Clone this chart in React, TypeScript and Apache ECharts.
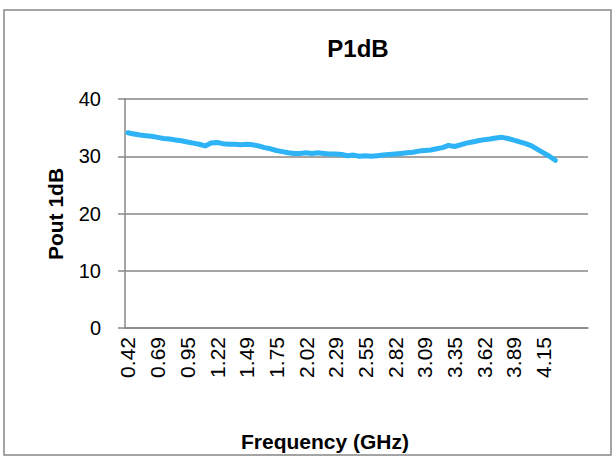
import React, { useEffect, useRef } from "react";
import * as echarts from "echarts";

// Tick labels shown on the frequency axis (GHz)
const tickLabels = [
  "0.42", "0.69", "0.95", "1.22", "1.49", "1.75", "2.02", "2.29",
  "2.55", "2.82", "3.09", "3.35", "3.62", "3.89", "4.15",
];
// measured points between two labels
const pointsPerTick = 5;
// empty categories after the last measured point
const trailingEmpty = 5;

// P1dB output power (dBm)
const p1dB = [
  34.1, 33.9, 33.7, 33.6, 33.5, 33.3, 33.1, 33.0, 32.85, 32.7,
  32.5, 32.3, 32.1, 31.8, 32.3, 32.4, 32.2, 32.1, 32.1, 32.0,
  32.1, 32.0, 31.8, 31.5, 31.3, 31.0, 30.8, 30.6, 30.5, 30.5,
  30.6, 30.5, 30.6, 30.5, 30.4, 30.4, 30.3, 30.1, 30.2, 30.0,
  30.1, 30.0, 30.1, 30.2, 30.3, 30.4, 30.5, 30.6, 30.7, 30.9,
  31.0, 31.1, 31.3, 31.5, 31.9, 31.7, 32.0, 32.3, 32.5, 32.7,
  32.9, 33.0, 33.2, 33.3, 33.1, 32.8, 32.5, 32.2, 31.8, 31.2,
  30.6, 30.0, 29.3,
];

const yTicks = { min: 0, max: 40, interval: 10 };

const FONT = "'Liberation Sans', Arial, sans-serif";
const GRAY = "#878787";

export default function App() {
  const ref = useRef<HTMLDivElement>(null);

  useEffect(() => {
    if (!ref.current) return;
    const chart = echarts.init(ref.current, null, { renderer: "svg" });

    const total = p1dB.length + trailingEmpty;
    const categories: string[] = [];
    for (let i = 0; i < total; i++) {
      const k = i / pointsPerTick;
      categories.push(
        i % pointsPerTick === 0 && k < tickLabels.length ? tickLabels[k] : ""
      );
    }

    chart.setOption({
      animation: false,
      backgroundColor: "#ffffff",
      grid: { left: 125, top: 99, width: 463, height: 229, containLabel: false },
      xAxis: {
        type: "category",
        data: categories,
        boundaryGap: true,
        axisLine: { show: true, lineStyle: { color: GRAY, width: 1.5 } },
        axisTick: { show: false },
        splitLine: { show: false },
        axisLabel: {
          interval: 0,
          rotate: 90,
          margin: 9,
          fontSize: 21,
          fontFamily: FONT,
          color: "#000",
          padding: [0, 0, 6, 0],
        },
      },
      yAxis: {
        type: "value",
        min: yTicks.min,
        max: yTicks.max,
        interval: yTicks.interval,
        axisLine: { show: true, lineStyle: { color: GRAY, width: 1.5 } },
        axisTick: { show: true, length: 7, lineStyle: { color: GRAY, width: 1.5 } },
        splitLine: { show: true, lineStyle: { color: GRAY, width: 1.5 } },
        axisLabel: {
          margin: 24,
          fontSize: 20,
          fontFamily: FONT,
          color: "#000",
        },
      },
      series: [
        {
          type: "line",
          data: p1dB,
          showSymbol: false,
          lineStyle: { color: "#2db3f6", width: 5, cap: "round", join: "round" },
          z: 5,
        },
      ],
      graphic: [
        {
          type: "rect",
          shape: { x: 4, y: 10, width: 607, height: 445 },
          style: { fill: "none", stroke: GRAY, lineWidth: 1.5 },
          silent: true,
        },
        {
          type: "text",
          x: 358,
          y: 48,
          style: {
            text: "P1dB",
            font: `bold 24px ${FONT}`,
            fill: "#000",
            textAlign: "center",
            textVerticalAlign: "middle",
          },
        },
        {
          type: "text",
          x: 55,
          y: 214,
          rotation: Math.PI / 2,
          style: {
            text: "Pout 1dB",
            font: `bold 21px ${FONT}`,
            fill: "#000",
            textAlign: "center",
            textVerticalAlign: "middle",
          },
        },
        {
          type: "text",
          x: 325,
          y: 441,
          style: {
            text: "Frequency (GHz)",
            font: `bold 21px ${FONT}`,
            fill: "#000",
            textAlign: "center",
            textVerticalAlign: "middle",
          },
        },
      ],
    });

    return () => chart.dispose();
  }, []);

  return (
    <div
      ref={ref}
      style={{ position: "absolute", left: 0, top: 0, width: 612, height: 456 }}
    />
  );
}
